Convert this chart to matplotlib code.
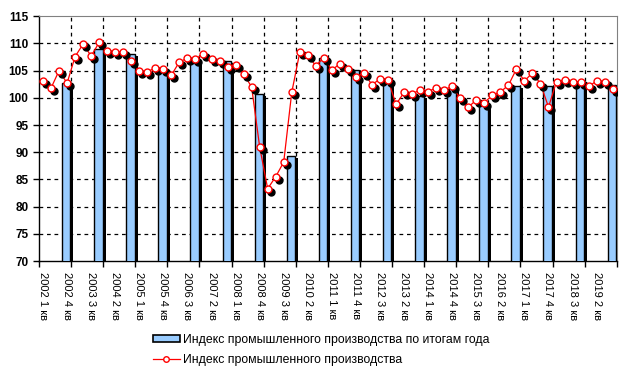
import numpy as np
import matplotlib
matplotlib.use('Agg')
import matplotlib.pyplot as plt
from matplotlib.transforms import ScaledTranslation
from matplotlib.patches import Patch
from matplotlib.lines import Line2D

plt.rcParams['font.family'] = ['Liberation Sans', 'DejaVu Sans']

# quarterly index, 2002 Q1 .. 2019 Q4
years = list(range(2002, 2020))
quarterly = [103.1, 101.8, 105.0, 102.7,
             107.6, 109.9, 107.7, 110.2,
             108.6, 108.4, 108.4, 106.8,
             104.9, 104.8, 105.5, 105.4,
             104.2, 106.6, 107.3, 107.2,
             108.0, 107.2, 106.8, 105.7,
             106.0, 104.4, 102.0, 91.0,
             83.3, 85.5, 88.2, 101.0,
             108.4, 107.8, 105.9, 107.4,
             105.1, 106.3, 105.3, 103.8,
             104.6, 102.4, 103.5, 103.3,
             98.8, 101.0, 100.7, 101.5,
             101.1, 101.9, 101.5, 102.1,
             99.9, 98.3, 99.6, 99.1,
             100.5, 101.1, 102.3, 105.3,
             103.1, 104.6, 102.6, 98.3,
             103.0, 103.3, 103.0, 102.9,
             102.1, 103.1, 102.9, 101.7]
# annual index, drawn at the 4th quarter of each year
annual = [102.8, 108.9, 108.0, 105.1, 106.4, 106.7, 100.7, 89.3, 107.3,
          105.1, 103.5, 100.4, 101.7, 98.8, 102.1, 102.1, 102.8, 102.3]

labels = []
for y in years:
    for q in range(1, 5):
        labels.append("%d %d кв" % (y, q))

x = np.arange(len(quarterly))
xbar = np.array([4 * i + 3 for i in range(len(years))]) - 0.1

fig = plt.figure(figsize=(6.33, 3.75), dpi=100)
ax = fig.add_axes([39 / 633, 1 - 261 / 375, (616.7 - 39) / 633, (261 - 16.3) / 375])

shadow = ax.transData + ScaledTranslation(3 / 100., -2 / 100., fig.dpi_scale_trans)
mshadow = ax.transData + ScaledTranslation(3 / 100., -3 / 100., fig.dpi_scale_trans)

# bars with shadow
sb = ax.bar(xbar, annual, width=1.05, color='black', zorder=2)
for p in sb:
    p.set_transform(shadow)
ax.bar(xbar, annual, width=1.05, color='#99CCFF', edgecolor='black', linewidth=1, zorder=3)

# line with shadowed markers
ax.plot(x, quarterly, color='red', lw=0.9, zorder=4)
ax.plot(x, quarterly, 'o', color='black', ms=5, transform=mshadow, zorder=4.5)
ax.plot(x, quarterly, 'o', mfc='white', mec='red', mew=1, ms=5, zorder=5)

ax.set_xlim(-0.5, len(quarterly) - 0.5)
ax.set_ylim(70, 115)
ax.set_yticks(np.arange(70, 116, 5))
for t in ax.get_yticklabels():
    t.set_fontweight('bold')
ax.tick_params(axis='y', labelsize=8.5, length=4, direction='out', width=1)

ax.set_xticks(np.arange(-0.5, len(quarterly), 4))
ax.set_xticklabels([])
ax.tick_params(axis='x', length=4, direction='out', width=1)
ax.set_xticks(x[::3], minor=True)
ax.set_xticklabels(labels[::3], minor=True, rotation=270, fontsize=8, va='top', ha='center')
ax.tick_params(axis='x', which='minor', length=0, pad=8)

# dashed grid
for v in range(75, 115, 5):
    ax.axhline(v, color='black', lw=0.9, ls=(0, (3, 3)), zorder=1)
for b in np.arange(3.5, len(quarterly) - 1, 4):
    ax.axvline(b, color='black', lw=0.9, ls=(0, (3, 3)), zorder=1)

ax.spines['top'].set_color('#808080')
ax.spines['right'].set_color('#808080')
ax.spines['left'].set_linewidth(1)
ax.spines['bottom'].set_linewidth(1)

handles = [Patch(facecolor='#99CCFF', edgecolor='black', linewidth=1.2),
           Line2D([], [], color='red', lw=0.9, marker='o', mfc='white', mec='red', ms=4)]
fig.legend(handles, ['Индекс промышленного производства по итогам года',
                     'Индекс промышленного производства'],
           loc='upper left', bbox_to_anchor=(148 / 633, 1 - 329 / 375),
           frameon=False, fontsize=8.8, handlelength=2.2, handleheight=0.5,
           labelspacing=0.65, handletextpad=0.25, borderaxespad=0)

plt.savefig('out.png', dpi=100)
